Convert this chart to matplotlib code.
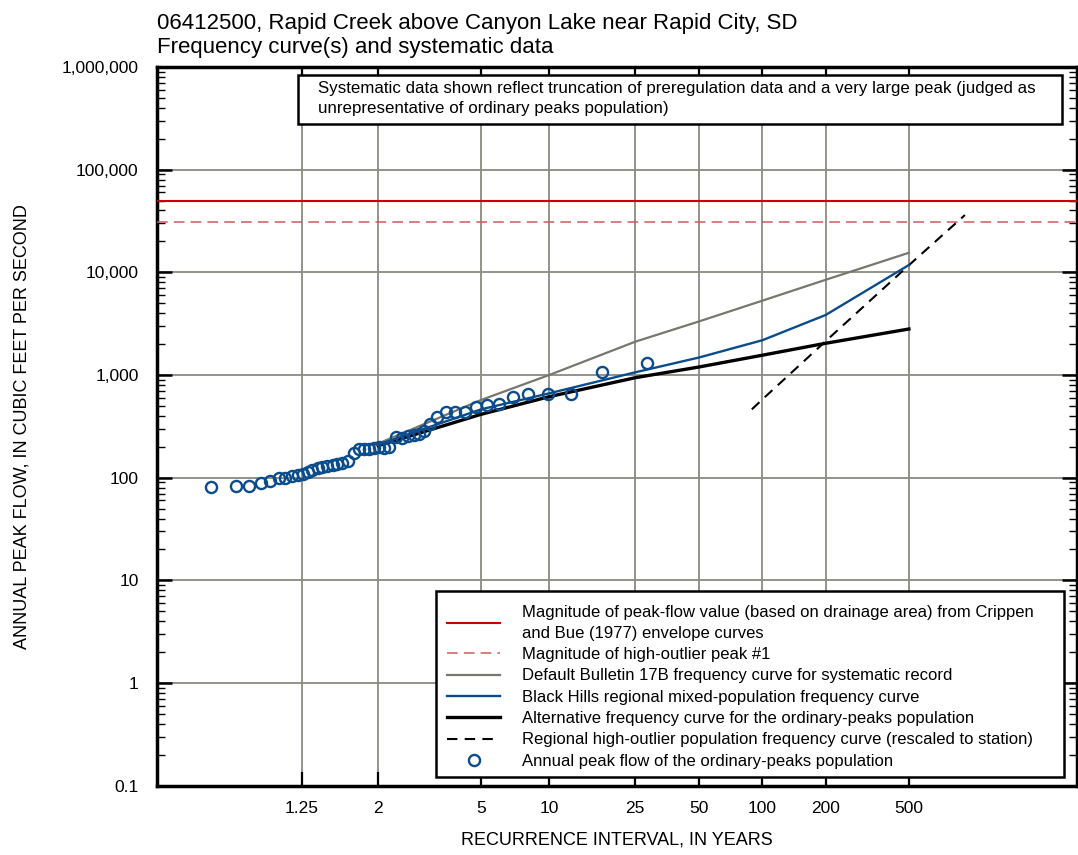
import numpy as np
import matplotlib
matplotlib.use('Agg')
import matplotlib.pyplot as plt
from matplotlib.ticker import FixedLocator, FixedFormatter, LogLocator, NullFormatter, NullLocator
from matplotlib.lines import Line2D
from matplotlib.patches import Rectangle

FONT = ['Liberation Sans', 'DejaVu Sans']
plt.rcParams['font.family'] = FONT

# ---------------- data ----------------
title_line1 = "06412500, Rapid Creek above Canyon Lake near Rapid City, SD"
title_line2 = "Frequency curve(s) and systematic data"
note_line1 = "Systematic data shown reflect truncation of preregulation data and a very large peak (judged as"
note_line2 = "unrepresentative of ordinary peaks population)"

x_ticks = [1.25, 2, 5, 10, 25, 50, 100, 200, 500]
x_tick_labels = ['1.25', '2', '5', '10', '25', '50', '100', '200', '500']
y_ticks = [0.1, 1, 10, 100, 1e3, 1e4, 1e5, 1e6]
y_tick_labels = ['0.1', '1', '10', '100', '1,000', '10,000', '100,000', '1,000,000']

envelope_flow = 49700      # Crippen and Bue envelope
outlier_peak_flow = 31200  # high-outlier peak #1

curve_ri = [2, 5, 10, 25, 50, 100, 200, 500]
b17b_flow = [215, 571, 1000, 2110, 3325, 5300, 8450, 15500]
mixed_flow = [210, 463, 663, 1062, 1481, 2182, 3839, 11780]
ordinary_flow = [205, 414, 615, 941, 1197, 1559, 2036, 2805]

outlier_curve_ri = [89, 100, 200, 500, 926]
outlier_curve_flow = [463, 580, 2133, 11730, 36100]

peak_ri = [1.013, 1.037, 1.060, 1.088, 1.114, 1.144, 1.171, 1.200, 1.228, 1.255,
           1.284, 1.315, 1.349, 1.385, 1.424, 1.466, 1.510, 1.558, 1.609, 1.680,
           1.739, 1.807, 1.874, 1.945, 2.020, 2.100, 2.185, 2.303, 2.420, 2.545,
           2.680, 2.799, 2.925, 3.087, 3.303, 3.590, 3.906, 4.277, 4.759, 5.286,
           5.974, 6.882, 8.054, 9.846, 12.58, 17.42, 28.30]
peak_flow = [81, 82.5, 82.5, 89, 93, 99, 100, 104, 106, 109,
             114, 119, 123, 126, 130, 134, 137, 139, 147, 173,
             189, 192, 192, 196, 198, 196, 200, 247, 244, 255,
             263, 266, 282, 330, 386, 436, 436, 441, 485, 510,
             520, 615, 646, 648, 653, 1058, 1318]

legend_labels = [
    "Magnitude of peak-flow value (based on drainage area) from Crippen\nand Bue (1977) envelope curves",
    "Magnitude of high-outlier peak #1",
    "Default Bulletin 17B frequency curve for systematic record",
    "Black Hills regional mixed-population frequency curve",
    "Alternative frequency curve for the ordinary-peaks population",
    "Regional high-outlier population frequency curve (rescaled to station)",
    "Annual peak flow of the ordinary-peaks population",
]

# ---------------- styles ----------------
RED = '#cc0000'
RED_DASH = '#d05a5a'
GRAY = '#77776e'
BLUE = '#0b4c8c'
GRID = '#8a8a80'


def fwd(T):
    T = np.asarray(T, dtype=float)
    with np.errstate(all='ignore'):
        return -np.log(-np.log(1.0 - 1.0 / T))


def inv(y):
    y = np.asarray(y, dtype=float)
    with np.errstate(all='ignore'):
        return 1.0 / (1.0 - np.exp(-np.exp(-y)))


W, H = 1078, 855
fig = plt.figure(figsize=(W / 100, H / 100), dpi=100)
ax_l, ax_r, ax_t, ax_b = 156.7, 1077.0, 66.9, 785.8
ax = fig.add_axes([ax_l / W, 1 - ax_b / H, (ax_r - ax_l) / W, (ax_b - ax_t) / H])

ax.set_xscale('function', functions=(fwd, inv))
ax.set_yscale('log')
ax.set_xlim(float(inv(-2.073)), float(inv(8.065)))
ax.set_ylim(0.1, 1e6)

# grid
ax.xaxis.set_major_locator(FixedLocator(x_ticks))
ax.xaxis.set_major_formatter(FixedFormatter(x_tick_labels))
ax.xaxis.set_minor_locator(NullLocator())
ax.yaxis.set_major_locator(FixedLocator(y_ticks))
ax.yaxis.set_major_formatter(FixedFormatter(y_tick_labels))
ax.yaxis.set_minor_locator(LogLocator(base=10, subs=np.arange(2, 10), numticks=50))
ax.yaxis.set_minor_formatter(NullFormatter())
ax.grid(True, which='major', color=GRID, linewidth=1.3, zorder=0)
ax.set_axisbelow(True)

for s in ax.spines.values():
    s.set_linewidth(2.5)
    s.set_color('black')

ax.tick_params(axis='x', which='major', direction='in', length=10, width=1.6,
               top=True, bottom=True, labelsize=12.5, pad=11)
ax.tick_params(axis='y', which='major', direction='in', length=11, width=1.8,
               left=True, right=True, labelsize=12.5, pad=13)
ax.tick_params(axis='y', which='minor', direction='in', length=6, width=1.0,
               left=True, right=True)

# lines
ax.axhline(envelope_flow, color=RED, linewidth=1.5, zorder=3)
ax.axhline(outlier_peak_flow, color=RED_DASH, linewidth=1.1, dashes=(7, 4), zorder=3)
ax.plot(curve_ri, b17b_flow, color=GRAY, linewidth=1.6, zorder=4)
ax.plot(curve_ri, mixed_flow, color=BLUE, linewidth=1.7, zorder=5)
ax.plot(curve_ri, ordinary_flow, color='black', linewidth=2.4, zorder=4)
ax.plot(outlier_curve_ri, outlier_curve_flow, color='black', linewidth=1.5,
        dashes=(5, 3.5), zorder=4)
ax.plot(peak_ri, peak_flow, linestyle='none', marker='o', markersize=8,
        markerfacecolor='none', markeredgecolor=BLUE, markeredgewidth=1.7, zorder=6)

# legend box
lb_l, lb_r, lb_t, lb_b = 436, 1064, 591, 777
ax.add_patch(Rectangle((lb_l / W, 1 - lb_b / H), (lb_r - lb_l) / W, (lb_b - lb_t) / H,
                       transform=fig.transFigure, facecolor='white', edgecolor='black',
                       linewidth=1.8, zorder=9, clip_on=False))

handles = [
    Line2D([], [], color=RED, linewidth=1.5),
    Line2D([], [], color=RED_DASH, linewidth=1.1, dashes=(7, 4)),
    Line2D([], [], color=GRAY, linewidth=1.6),
    Line2D([], [], color=BLUE, linewidth=1.7),
    Line2D([], [], color='black', linewidth=2.4),
    Line2D([], [], color='black', linewidth=1.5, dashes=(5, 3.5)),
    Line2D([], [], linestyle='none', marker='o', markersize=8, markerfacecolor='none',
           markeredgecolor=BLUE, markeredgewidth=1.7),
]
leg = ax.legend(handles, legend_labels, loc='upper left',
                bbox_to_anchor=(447 / W, 1 - 605 / H), bbox_transform=fig.transFigure,
                fontsize=12, frameon=False,
                handlelength=3.18, handletextpad=1.32, labelspacing=0.38, borderpad=0,
                borderaxespad=0, numpoints=1)
for t in leg.get_texts():
    t.set_linespacing(1.48)
leg.set_zorder(10)

# note box
box_l, box_r, box_t, box_b = 298, 1062, 75, 124
ax.add_patch(Rectangle((box_l / W, 1 - box_b / H), (box_r - box_l) / W, (box_b - box_t) / H,
                       transform=fig.transFigure, facecolor='white', edgecolor='black',
                       linewidth=1.8, zorder=10, clip_on=False))
ax.text(318 / W, 1 - 89 / H, note_line1, transform=fig.transFigure, fontsize=12.2,
        ha='left', va='center', zorder=11)
ax.text(318 / W, 1 - 109 / H, note_line2, transform=fig.transFigure, fontsize=12.2,
        ha='left', va='center', zorder=11)

# titles and axis labels
fig.text(157 / W, 1 - 28.5 / H, title_line1, fontsize=16, ha='left', va='baseline')
fig.text(157 / W, 1 - 52.5 / H, title_line2, fontsize=16, ha='left', va='baseline')
fig.text((ax_l + ax_r) / 2 / W, 1 - 840 / H, "RECURRENCE INTERVAL, IN YEARS",
         fontsize=13, ha='center', va='center')
fig.text(22 / W, 1 - (ax_t + ax_b) / 2 / H, "ANNUAL PEAK FLOW, IN CUBIC FEET PER SECOND",
         fontsize=13, ha='center', va='center', rotation=90)

fig.savefig('out.png', dpi=100)
